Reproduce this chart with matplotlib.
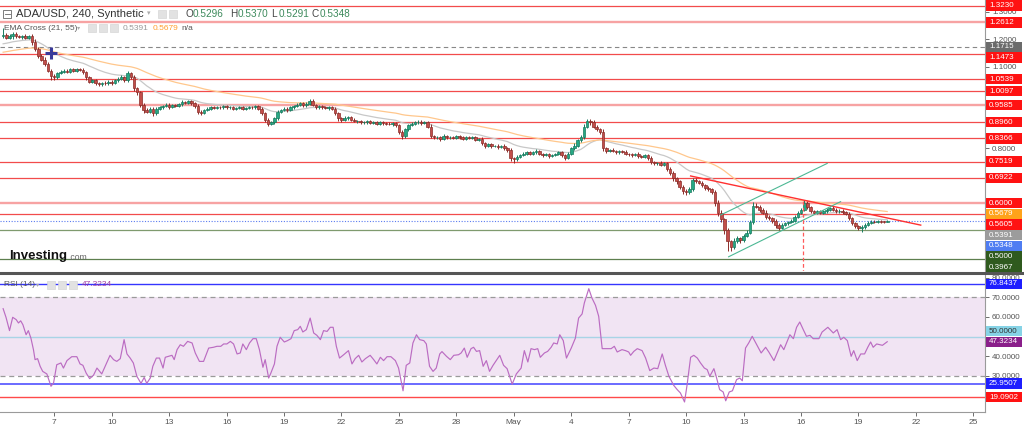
import numpy as np
import pandas as pd
import matplotlib
matplotlib.use("Agg")
import matplotlib.pyplot as plt
from matplotlib.patches import Rectangle
from matplotlib.lines import Line2D

plt.rcParams["font.family"] = ["Liberation Sans", "DejaVu Sans"]

# ---- data (4h candles, first one at 4 April 08:00) ----
first_open = 1.212
closes = [
    1.215, 1.205, 1.212, 1.220, 1.210, 1.208, 1.212, 1.205, 1.210, 1.190,
    1.165, 1.140, 1.125, 1.110, 1.085, 1.065, 1.060, 1.075, 1.080, 1.085,
    1.080, 1.090, 1.085, 1.090, 1.088, 1.080, 1.060, 1.045, 1.050, 1.040,
    1.035, 1.040, 1.038, 1.045, 1.040, 1.050, 1.055, 1.060, 1.050, 1.075,
    1.060, 1.020, 1.005, 0.960, 0.940, 0.935, 0.945, 0.930, 0.945, 0.950,
    0.955, 0.960, 0.952, 0.958, 0.955, 0.962, 0.970, 0.968, 0.972, 0.965,
    0.955, 0.935, 0.930, 0.940, 0.945, 0.950, 0.948, 0.952, 0.950, 0.955,
    0.950, 0.952, 0.945, 0.948, 0.950, 0.945, 0.948, 0.952, 0.950, 0.955,
    0.945, 0.930, 0.905, 0.890, 0.895, 0.910, 0.935, 0.940, 0.945, 0.940,
    0.950, 0.955, 0.960, 0.965, 0.958, 0.962, 0.975, 0.960, 0.950, 0.955,
    0.950, 0.948, 0.952, 0.945, 0.930, 0.910, 0.905, 0.910, 0.915, 0.905,
    0.900, 0.900, 0.895, 0.895, 0.900, 0.893, 0.895, 0.890, 0.895, 0.892,
    0.890, 0.888, 0.892, 0.885, 0.860, 0.845, 0.870, 0.885, 0.890, 0.895,
    0.898, 0.892, 0.895, 0.880, 0.845, 0.840, 0.840, 0.835, 0.845, 0.840,
    0.842, 0.838, 0.845, 0.840, 0.835, 0.840, 0.838, 0.840, 0.832, 0.835,
    0.820, 0.810, 0.815, 0.808, 0.810, 0.805, 0.810, 0.800, 0.795, 0.765,
    0.760, 0.770, 0.775, 0.780, 0.785, 0.780, 0.785, 0.790, 0.780, 0.775,
    0.778, 0.772, 0.775, 0.780, 0.785, 0.775, 0.765, 0.780, 0.800, 0.810,
    0.830, 0.840, 0.880, 0.900, 0.895, 0.880, 0.870, 0.860, 0.800, 0.790,
    0.795, 0.790, 0.785, 0.790, 0.788, 0.780, 0.778, 0.775, 0.780, 0.772,
    0.770, 0.775, 0.765, 0.750, 0.745, 0.748, 0.740, 0.745, 0.725, 0.710,
    0.690, 0.680, 0.660, 0.645, 0.640, 0.650, 0.685, 0.680, 0.675, 0.665,
    0.655, 0.650, 0.640, 0.600, 0.565, 0.540, 0.500, 0.460, 0.440, 0.460,
    0.470, 0.465, 0.480, 0.490, 0.530, 0.590, 0.585, 0.575, 0.565, 0.550,
    0.545, 0.535, 0.520, 0.510, 0.520, 0.525, 0.530, 0.535, 0.550, 0.565,
    0.575, 0.600, 0.585, 0.570, 0.565, 0.570, 0.565, 0.570, 0.575, 0.580,
    0.575, 0.570, 0.572, 0.566, 0.560, 0.545, 0.525, 0.515, 0.510, 0.512,
    0.520, 0.528, 0.532, 0.530, 0.534, 0.531, 0.5296, 0.5348,
]
# wick lengths in thousandths above / below the body
wick_up = [
    25, 8, 6, 5, 8, 6, 5, 6, 5, 8,
    10, 6, 5, 8, 6, 5, 6, 5, 8, 6,
    5, 6, 5, 4, 5, 6, 5, 4, 5, 6,
    5, 4, 6, 5, 4, 6, 5, 8, 6, 10,
    5, 8, 6, 6, 5, 8, 5, 6, 5, 4,
    5, 6, 5, 4, 6, 5, 8, 5, 4, 6,
    5, 6, 5, 4, 5, 4, 5, 4, 5, 4,
    5, 4, 5, 4, 5, 4, 5, 4, 5, 4,
    5, 6, 5, 8, 5, 6, 5, 4, 5, 6,
    5, 4, 5, 6, 5, 8, 6, 5, 4, 5,
    5, 4, 5, 4, 6, 5, 6, 8, 5, 4,
    5, 4, 5, 4, 5, 4, 5, 4, 5, 4,
    4, 5, 4, 5, 6, 8, 5, 4, 5, 6,
    5, 6, 5, 4, 8, 5, 4, 5, 6, 4,
    5, 4, 5, 4, 5, 4, 5, 4, 5, 4,
    6, 5, 4, 5, 4, 5, 4, 5, 6, 8,
    5, 4, 5, 6, 5, 4, 5, 6, 5, 4,
    5, 4, 5, 4, 6, 5, 4, 5, 6, 8,
    6, 8, 10, 8, 6, 8, 5, 6, 10, 5,
    4, 5, 4, 5, 4, 5, 4, 5, 4, 5,
    4, 5, 4, 6, 5, 4, 5, 4, 5, 6,
    8, 6, 5, 6, 8, 10, 8, 6, 5, 6,
    5, 6, 5, 8, 10, 8, 6, 8, 6, 10,
    8, 6, 8, 10, 8, 15, 10, 6, 5, 8,
    6, 5, 6, 5, 8, 6, 5, 6, 5, 6,
    8, 11, 6, 5, 6, 5, 6, 5, 8, 6,
    10, 6, 5, 6, 5, 6, 5, 6, 5, 6,
    5, 6, 4, 5, 4, 3, 3, 2.2,
]
wick_dn = [
    8, 6, 5, 10, 6, 5, 6, 5, 6, 10,
    8, 10, 6, 8, 6, 15, 8, 5, 4, 5,
    5, 4, 5, 4, 5, 6, 8, 6, 5, 6,
    5, 6, 4, 5, 6, 4, 5, 6, 8, 6,
    6, 8, 10, 8, 10, 6, 5, 10, 6, 5,
    5, 4, 6, 5, 4, 5, 6, 4, 5, 6,
    8, 10, 6, 5, 4, 5, 4, 5, 4, 5,
    4, 5, 4, 5, 4, 5, 4, 5, 4, 5,
    6, 8, 10, 8, 6, 5, 6, 5, 4, 5,
    4, 5, 4, 5, 6, 5, 4, 6, 5, 4,
    5, 4, 6, 5, 6, 8, 10, 6, 5, 6,
    5, 6, 4, 5, 4, 5, 4, 5, 4, 5,
    5, 4, 5, 6, 8, 10, 6, 5, 4, 5,
    4, 5, 4, 6, 8, 6, 5, 8, 5, 4,
    5, 4, 5, 4, 5, 6, 4, 5, 6, 5,
    6, 8, 5, 6, 4, 6, 5, 6, 8, 10,
    12, 6, 5, 4, 5, 4, 5, 4, 6, 5,
    4, 6, 5, 4, 5, 6, 8, 5, 4, 5,
    5, 6, 5, 6, 8, 6, 5, 8, 10, 6,
    5, 4, 5, 6, 4, 5, 6, 5, 4, 6,
    5, 4, 6, 8, 5, 4, 6, 5, 8, 6,
    8, 10, 8, 12, 10, 6, 5, 6, 5, 6,
    6, 5, 8, 10, 12, 10, 12, 37, 15, 10,
    8, 10, 8, 6, 5, 6, 5, 8, 6, 8,
    6, 8, 10, 8, 5, 6, 5, 4, 5, 6,
    5, 6, 8, 6, 5, 6, 5, 4, 5, 6,
    5, 6, 5, 6, 5, 8, 6, 8, 10, 15,
    6, 5, 4, 5, 4, 3, 3, 0.5,
]
ema21_seed = 1.18
ema55_seed = 1.15
ema_shown = [0.5391, 0.5679]  # EMA values printed by the chart

# RSI(14): candle position, value
rsi_pos = [
    0.0, 0.9, 2.0, 3.0, 4.1, 4.8, 5.5, 6.2, 7.2, 7.9,
    8.7, 9.5, 10.0, 10.8, 11.6, 12.4, 13.7, 15.0, 15.8, 16.8,
    18.1, 18.9, 20.0, 21.5, 23.1, 24.1, 25.0, 26.0, 27.1, 28.3,
    29.4, 30.9, 32.3, 33.5, 34.6, 35.6, 36.7, 37.9, 38.8, 39.8,
    40.8, 41.9, 43.2, 44.2, 45.0, 46.1, 46.9, 48.0, 49.0, 50.1,
    50.8, 51.8, 52.9, 53.6, 54.5, 55.5, 56.5, 57.8, 59.2, 60.2,
    61.5, 62.8, 64.4, 65.9, 67.0, 68.2, 69.1, 70.1, 71.2, 72.2,
    73.3, 74.3, 75.1, 76.2, 77.2, 78.3, 79.3, 80.3, 81.4, 82.1,
    83.2, 83.9, 85.0, 85.8, 86.8, 88.1, 89.1, 90.2, 91.2, 92.3,
    93.1, 93.9, 95.0, 96.2, 97.3, 98.3, 99.4, 100.4, 101.5, 102.5,
    103.4, 104.4, 105.4, 106.7, 108.2, 109.3, 110.3, 111.4, 112.4, 113.5,
    115.0, 116.1, 117.1, 118.2, 119.2, 120.3, 121.5, 122.9, 123.9, 125.3,
    126.3, 127.4, 128.4, 129.5, 130.5, 131.8, 132.6, 133.6, 134.7, 135.7,
    136.8, 137.5, 138.9, 140.1, 141.2, 142.7, 143.5, 144.5, 145.4, 146.6,
    147.4, 148.3, 149.3, 150.4, 151.4, 152.4, 153.5, 155.6, 156.8, 157.9,
    159.5, 160.8, 162.3, 163.3, 164.4, 165.4, 166.5, 167.5, 168.3, 169.6,
    170.6, 171.7, 172.5, 173.6, 174.4, 175.5, 176.5, 178.0, 179.3, 180.3,
    181.4, 182.1, 183.5, 184.5, 185.6, 186.6, 187.7, 189.2, 190.5, 191.5,
    192.4, 193.9, 195.0, 196.0, 196.6, 197.6, 198.7, 200.2, 201.3, 202.6,
    203.9, 205.1, 206.5, 207.5, 208.6, 210.1, 211.2, 212.2, 213.5, 214.3,
    215.4, 216.4, 217.5, 218.5, 219.7, 220.6, 221.4, 222.7, 223.5, 224.5,
    225.6, 226.4, 227.5, 228.5, 229.8, 230.8, 231.6, 232.6, 233.6, 234.7,
    236.1, 237.5, 238.9, 239.9, 241.5, 242.5, 243.6, 244.6, 246.5, 247.6,
    248.6, 249.6, 250.7, 251.7, 252.8, 253.8, 255.6, 256.6, 258.4, 260.1,
    261.3, 262.4, 263.4, 264.5, 265.7, 266.5, 267.6, 268.7, 269.9, 270.9,
    271.8, 272.6, 273.7, 275.5, 277.0,
]
rsi_val = [
    64.2, 59.8, 53.0, 59.8, 58.6, 56.9, 58.0, 56.0, 50.9, 53.0,
    49.2, 43.3, 38.2, 38.7, 34.8, 32.2, 30.9, 24.6, 26.3, 35.6,
    36.5, 33.9, 37.7, 39.7, 39.7, 36.0, 35.3, 31.4, 28.5, 30.2,
    33.9, 30.9, 36.0, 40.4, 38.2, 37.3, 38.7, 48.4, 41.1, 39.0,
    36.5, 29.7, 26.1, 29.1, 26.1, 28.8, 34.8, 39.0, 39.0, 33.9,
    39.4, 39.9, 40.4, 38.2, 43.3, 45.8, 45.0, 47.5, 46.7, 41.6,
    37.3, 37.3, 44.1, 44.5, 45.0, 45.0, 46.2, 46.2, 47.5, 46.2,
    41.1, 41.6, 46.2, 43.3, 46.7, 48.9, 48.9, 43.3, 34.3, 38.2,
    28.8, 31.4, 36.0, 45.0, 49.6, 47.2, 47.9, 48.9, 53.0, 53.5,
    55.2, 52.3, 53.5, 59.4, 51.8, 50.6, 48.4, 53.0, 52.6, 54.7,
    54.7, 45.0, 39.0, 40.7, 42.8, 36.0, 38.7, 40.4, 37.0, 38.7,
    40.4, 38.2, 36.0, 39.4, 37.7, 39.7, 39.7, 37.7, 33.9, 22.3,
    35.3, 36.5, 46.7, 50.9, 48.4, 47.9, 46.2, 34.8, 32.2, 33.9,
    41.1, 42.3, 39.9, 38.2, 40.4, 40.7, 41.6, 44.1, 39.4, 43.8,
    44.5, 42.4, 42.8, 34.8, 37.7, 32.2, 35.3, 40.4, 35.3, 33.6,
    25.7, 30.9, 33.9, 42.8, 37.0, 43.8, 43.3, 43.8, 39.4, 41.6,
    42.4, 44.5, 46.7, 46.2, 50.9, 47.9, 39.0, 44.1, 49.2, 59.4,
    61.5, 67.1, 74.4, 69.6, 65.9, 60.3, 43.8, 43.8, 43.8, 45.0,
    42.1, 43.3, 42.8, 42.1, 40.4, 42.4, 43.8, 42.8, 39.0, 32.6,
    33.9, 33.6, 41.1, 35.3, 29.7, 25.1, 22.9, 21.2, 16.6, 25.4,
    39.4, 40.4, 39.0, 36.5, 33.9, 33.1, 29.7, 33.6, 29.1, 22.9,
    21.7, 17.2, 21.7, 22.3, 28.0, 28.8, 27.4, 44.1, 46.7, 50.1,
    45.8, 41.6, 44.5, 42.1, 37.7, 41.6, 45.8, 43.3, 50.9, 48.9,
    54.7, 57.4, 53.5, 50.1, 50.6, 48.9, 48.9, 52.3, 54.7, 51.8,
    53.5, 48.4, 49.6, 47.9, 39.9, 42.8, 37.7, 41.1, 41.1, 44.5,
    47.2, 44.5, 46.2, 45.5, 47.3234,
]

red_levels = [1.3230, 1.1473, 1.0539, 1.0097, 0.8960,
              0.8366, 0.7519, 0.6922, 0.5605]
pink_levels = [1.2612, 0.9585, 0.6000]
green_levels = [0.5000, 0.3967]
dashed_level = 1.1715
last_ohlc = [0.5296, 0.5370, 0.5291, 0.5348]

# drawn lines: (candle position, price)
trend_red = ([215.4, 287.5], [0.699, 0.519])
channel_low = ([227.3, 262.4], [0.403, 0.605])
channel_high = ([224.8, 258.2], [0.556, 0.745])
vline_pos = 250.7
vline_top = 0.606
cross_mark = (14.9, 1.1505)

rsi_levels = [76.8437, 50.0000, 25.9507, 19.0902]

tick_days = [7, 10, 13, 16, 19, 22, 25, 28, 31, 34, 37, 40, 43, 46, 49, 52, 55]
tick_labels = ["7", "10", "13", "16", "19", "22", "25", "28", "May",
               "4", "7", "10", "13", "16", "19", "22", "25"]

t0 = 4 + 8 / 24  # day of first candle (April day number)


def t_of(pos):
    return t0 + np.asarray(pos, dtype=float) / 6.0


W, H = 1024, 425


def fx(x):
    return x / W


def fy(y):
    return 1 - y / H


fig = plt.figure(figsize=(W / 100, H / 100), dpi=100)
fig.patch.set_facecolor("white")
ax = fig.add_axes([0, fy(271), fx(985), 271 / H])
rax = fig.add_axes([0, fy(412), fx(985), 138 / H])

XL = (4.17, 55.606)
ax.set_xlim(*XL)
rax.set_xlim(*XL)
ax.set_ylim(0.35092, 1.34359)
rax.set_ylim(11.48, 81.89)

# ---- candles ----
c = np.array(closes)
o = np.concatenate([[first_open], c[:-1]])
hi = np.maximum(o, c) + np.array(wick_up) / 1000
lo = np.minimum(o, c) - np.array(wick_dn) / 1000
t = t_of(np.arange(len(c)))
up = c >= o
fc = np.where(up, "#26a884", "#c24e4a")
ec = np.where(up, "#177a5e", "#8a2c29")
ax.vlines(t, lo, hi, colors=ec, linewidth=0.7, zorder=3)
body = np.where(np.abs(c - o) < 0.0015, 0.0015, c - o)
ax.bar(t, body, bottom=o, width=0.135, color=fc, edgecolor=ec,
       linewidth=0.5, zorder=4)

# EMA cross
ema21 = pd.Series([ema21_seed] + closes).ewm(span=21, adjust=False).mean().iloc[1:]
ema55 = pd.Series([ema55_seed] + closes).ewm(span=55, adjust=False).mean().iloc[1:]
ax.plot(t, ema21.values, color="#c8c8c8", lw=0.9, zorder=2)
ax.plot(t, ema55.values, color="#ffc78c", lw=0.9, zorder=2)

# horizontal levels
for lv in red_levels:
    ax.axhline(lv, color="#f24b4b", lw=0.9, zorder=1)
for lv in pink_levels:
    ax.axhline(lv, color="#f7a3a3", lw=1.7, zorder=1)
ax.axhline(green_levels[0], color="#7f9a6e", lw=0.9, zorder=1)
ax.axhline(green_levels[1], color="#5d7f4e", lw=0.9, zorder=1)
ax.axhline(dashed_level, color="#888888", lw=0.8, ls=(0, (4, 3)), zorder=1)
ax.axhline(last_ohlc[3], color="#5b7cf0", lw=0.8, ls=(0, (1, 1.5)), zorder=1)

# drawings
ax.plot(t_of(trend_red[0]), trend_red[1], color="#ff3030", lw=1.0, zorder=5)
ax.plot(t_of(channel_low[0]), channel_low[1], color="#4cb894", lw=0.8, zorder=5)
ax.plot(t_of(channel_high[0]), channel_high[1], color="#4cb894", lw=0.8, zorder=5)
ax.plot([t_of(vline_pos)] * 2, [vline_top, 0.35092], color="#ff5a5a", lw=0.9,
        ls=(0, (3, 2)), zorder=5)
ax.plot(t_of(cross_mark[0]), cross_mark[1], marker="+", color="#3a3a9a",
        markersize=9, mew=2.2, zorder=6)

# axes styling
for a in (ax, rax):
    for s in ("top", "left"):
        a.spines[s].set_visible(False)
    a.spines["right"].set_color("#9a9a9a")
    a.spines["right"].set_linewidth(0.8)
    a.yaxis.tick_right()
    a.tick_params(axis="y", labelsize=5.8, colors="#555555", length=3,
                  width=0.6, pad=2)
ax.spines["bottom"].set_visible(False)
ax.tick_params(axis="x", length=0, labelbottom=False)
rax.spines["bottom"].set_color("#9a9a9a")
rax.spines["bottom"].set_linewidth(0.8)
rax.set_xticks(tick_days)
rax.set_xticklabels(tick_labels)
rax.tick_params(axis="x", labelsize=6, colors="#555555", length=3, width=0.6, pad=2)

# ---- RSI panel ----
rax.axhspan(30, 70, color="#f1e4f3", zorder=0, lw=0)
rax.axhline(70, color="#9a9a9a", lw=0.9, ls=(0, (4, 3)))
rax.axhline(30, color="#9a9a9a", lw=0.9, ls=(0, (4, 3)))
rax.axhline(rsi_levels[0], color="#3535ff", lw=1.0)
rax.axhline(rsi_levels[1], color="#a8d4e6", lw=1.0)
rax.axhline(rsi_levels[2], color="#6a6aff", lw=1.4)
rax.axhline(rsi_levels[3], color="#ff4a4a", lw=1.0)
rax.plot(t_of(rsi_pos), rsi_val, color="#bb6cc2", lw=0.85, zorder=3)

# separator between panels
fig.add_artist(Line2D([0, 1], [fy(272.5)] * 2, transform=fig.transFigure,
                      color="#555555", lw=2.2))


# ---- right side value boxes ----
def img_y(a, v):
    return H - a.transData.transform((XL[0], v))[1]


def box(y, text, face, color="white"):
    fig.add_artist(Rectangle((fx(986), fy(y + 5.2)), fx(36), 10.4 / H,
                             transform=fig.transFigure, facecolor=face,
                             edgecolor="none", zorder=5))
    fig.text(fx(989), fy(y), text, color=color, fontsize=5.8, va="center",
             ha="left", zorder=6)


def tick_labels_free(a, ticks, box_ys):
    labs = []
    for tk in ticks:
        y = img_y(a, tk)
        hidden = any(abs(y - by) < 6 for by in box_ys)
        labs.append("" if hidden else "%.4f" % tk)
    a.set_yticks(ticks)
    a.set_yticklabels(labs)


main_boxes = [(v, "#ff1212", "white") for v in red_levels + pink_levels]
main_boxes += [(dashed_level, "#6b6b6b", "white"),
               (ema_shown[1], "#ffa31a", "white"),
               (ema_shown[0], "#9c9c9c", "white"),
               (last_ohlc[3], "#4f7df2", "white"),
               (green_levels[0], "#2f5a1e", "white"),
               (green_levels[1], "#2f5a1e", "white")]
main_boxes = sorted(main_boxes, key=lambda b: -b[0])
prev = -100
ys = []
for v, face, col in main_boxes:
    y = max(img_y(ax, v), prev + 10.7)
    prev = y
    ys.append(y)
    box(y, "%.4f" % v, face, col)
tick_labels_free(ax, list(np.round(np.arange(0.4, 1.31, 0.1), 1)), ys)

rsi_boxes = [(rsi_levels[0], "#1e1eff", "white"),
             (rsi_levels[1], "#86d3e6", "#333333"),
             (rsi_val[-1], "#8a1f8a", "white"),
             (rsi_levels[2], "#1e1eff", "white"),
             (rsi_levels[3], "#ff1212", "white")]
rsi_boxes = sorted(rsi_boxes, key=lambda b: b[0])
prev = 1000
ys = []
for v, face, col in rsi_boxes:
    y = min(img_y(rax, v), prev - 10.7)
    prev = y
    ys.append(y)
    box(y, "%.4f" % v, face, col)
tick_labels_free(rax, [20, 30, 40, 50, 60, 70, 80], ys)


# ---- header texts ----
def icon(x, y, s=8):
    fig.add_artist(Rectangle((fx(x), fy(y + s / 2)), fx(s), s / H,
                             transform=fig.transFigure, facecolor="#e2e2e2",
                             edgecolor="#d0d0d0", lw=0.4, zorder=5))


fig.add_artist(Rectangle((fx(3), fy(18)), fx(8), 8 / H, transform=fig.transFigure,
                         facecolor="white", edgecolor="#666666", lw=0.6, zorder=5))
fig.add_artist(Line2D([fx(4.5), fx(9.5)], [fy(14)] * 2, transform=fig.transFigure,
                      color="#666666", lw=0.6, zorder=6))
fig.text(fx(16), fy(14), "ADA/USD, 240, Synthetic", fontsize=8.1, color="#333333",
         va="center", ha="left", zorder=6)
fig.text(fx(147), fy(14), "▾", fontsize=5, color="#aaaaaa", va="center", zorder=6)
icon(158, 14)
icon(169, 14)
for lab, val, x in zip("OHLC", last_ohlc, (185, 230, 271, 312)):
    fig.text(fx(x), fy(14), lab, fontsize=7.2, color="#444444", va="center", zorder=6)
    fig.text(fx(x + 7.5), fy(14), "%.4f" % val, fontsize=7.2, color="#3d8a5c",
             va="center", zorder=6)

fig.text(fx(4), fy(28), "EMA Cross (21, 55)", fontsize=6.0, color="#555555",
         va="center", zorder=6)
fig.text(fx(77), fy(28), "▾", fontsize=4.5, color="#aaaaaa", va="center", zorder=6)
for x in (88, 99, 110):
    icon(x, 28)
fig.text(fx(123), fy(28), "%.4f" % ema_shown[0], fontsize=6.0, color="#999999",
         va="center", zorder=6)
fig.text(fx(153), fy(28), "%.4f" % ema_shown[1], fontsize=6.0, color="#ff9f30",
         va="center", zorder=6)
fig.text(fx(181), fy(28), "n/a", fontsize=6.0, color="#555555", va="center", zorder=6)

fig.text(fx(4), fy(285), "RSI (14)", fontsize=6.0, color="#555555", va="center", zorder=6)
fig.text(fx(36), fy(285), "▾", fontsize=4.5, color="#aaaaaa", va="center", zorder=6)
for x in (47, 58, 69):
    icon(x, 285)
fig.text(fx(82), fy(285), "%.4f" % rsi_val[-1], fontsize=6.0, color="#a03ca0",
         va="center", zorder=6)

# Investing.com logo
fig.text(fx(9), fy(256), "Investing", fontsize=9.5, fontweight="bold",
         color="#111111", va="center", zorder=6)
fig.text(fx(68), fy(258), ".com", fontsize=6.2, color="#666666", va="center", zorder=6)

plt.savefig("out.png", dpi=100)
